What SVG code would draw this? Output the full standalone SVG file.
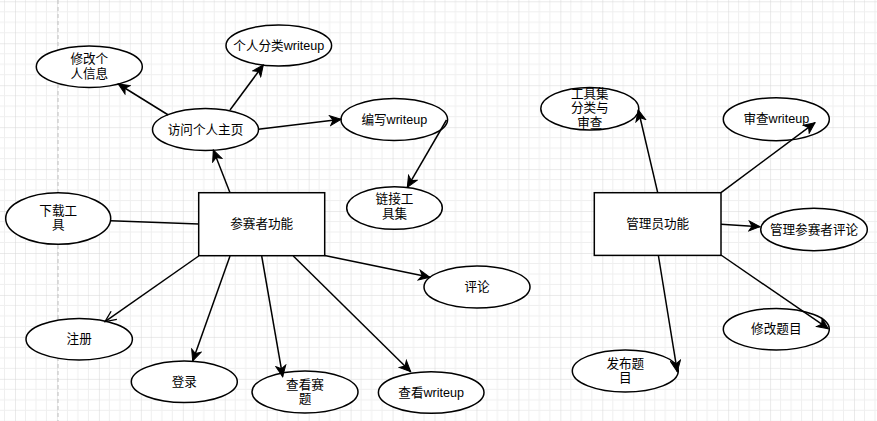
<svg xmlns="http://www.w3.org/2000/svg" width="877" height="421" viewBox="0 0 877 421">
<style>
.n{fill:#fff;stroke:#000;stroke-width:1.5}
.t{font-family:"Liberation Sans","Noto Sans CJK SC",sans-serif;font-size:12.6px;fill:#000;text-anchor:middle;dominant-baseline:central}
.e{fill:none;stroke:#000;stroke-width:1.5}
.a{marker-end:url(#ar)}
.o{marker-end:url(#op)}
</style>
<defs>
<pattern id="grid" patternUnits="userSpaceOnUse" x="15" y="1.3" width="41.95" height="41.95">
<path d="M10.49 0V41.95M20.98 0V41.95M31.46 0V41.95M0 10.49H41.95M0 20.98H41.95M0 31.46H41.95" stroke="#efefef" stroke-width="1" fill="none"/>
<path d="M0 0V41.95M0 0H41.95" stroke="#d6d6d6" stroke-width="1" fill="none"/>
</pattern>
<marker id="ar" markerUnits="userSpaceOnUse" viewBox="-12 -6 13 12" refX="0" refY="0" markerWidth="13" markerHeight="12" orient="auto">
<path d="M0 0L-11 -5L-8 0L-11 5Z" fill="#000" stroke="#000" stroke-width="1"/>
</marker>
<marker id="op" markerUnits="userSpaceOnUse" viewBox="-12 -6 13 12" refX="0" refY="0" markerWidth="13" markerHeight="12" orient="auto">
<path d="M-11 -5L0 0L-11 5" fill="none" stroke="#000" stroke-width="1.3"/>
</marker>
</defs>
<rect width="877" height="421" fill="#fff"/>
<rect width="877" height="421" fill="url(#grid)"/>
<line x1="58" y1="0" x2="58" y2="421" stroke="#c8c8c8" stroke-width="1.2" stroke-dasharray="4 3"/>

<g id="modify-info"><ellipse class="n" cx="89.3" cy="66.7" rx="53" ry="20.7"/><text class="t" x="89.3" y="59.3">修改个</text><text class="t" x="89.3" y="73.5">人信息</text></g>
<g id="personal-category"><ellipse class="n" cx="278.8" cy="45.5" rx="52.8" ry="20.5"/><text class="t" x="278.8" y="45.5">个人分类writeup</text></g>
<g id="visit-home"><ellipse class="n" cx="205.5" cy="129.5" rx="53" ry="21"/><text class="t" x="205.5" y="129.5">访问个人主页</text></g>
<g id="write-writeup"><ellipse class="n" cx="394.3" cy="119.5" rx="53.3" ry="21"/><text class="t" x="394.3" y="119.5">编写writeup</text></g>
<g id="link-tools"><ellipse class="n" cx="394.5" cy="208" rx="47.8" ry="21.3"/><text class="t" x="394.5" y="199.3">链接工</text><text class="t" x="394.5" y="213.5">具集</text></g>
<g id="contestant"><rect class="n" x="198.7" y="192.7" width="126" height="63"/><text class="t" x="261.7" y="224">参赛者功能</text></g>
<g id="download-tools"><ellipse class="n" cx="58.2" cy="218.5" rx="52.5" ry="25.8"/><text class="t" x="58.2" y="210.8">下载工</text><text class="t" x="58.2" y="225">具</text></g>
<g id="register"><ellipse class="n" cx="79.2" cy="339.2" rx="53.2" ry="20.8"/><text class="t" x="79.2" y="339.2">注册</text></g>
<g id="login"><ellipse class="n" cx="184.3" cy="381.8" rx="53" ry="20.8"/><text class="t" x="184.3" y="381.8">登录</text></g>
<g id="view-problems"><ellipse class="n" cx="305" cy="392" rx="53" ry="21"/><text class="t" x="305" y="384.5">查看赛</text><text class="t" x="305" y="398.5">题</text></g>
<g id="comment"><ellipse class="n" cx="477" cy="287" rx="53" ry="21"/><text class="t" x="477" y="287">评论</text></g>
<g id="view-writeup"><ellipse class="n" cx="431.2" cy="392.5" rx="52.8" ry="20.8"/><text class="t" x="431.2" y="392.5">查看writeup</text></g>
<g id="toolset-review"><ellipse class="n" cx="589.8" cy="108.7" rx="49" ry="21.3"/><text class="t" x="589.8" y="93.5">工具集</text><text class="t" x="589.8" y="108">分类与</text><text class="t" x="589.8" y="122.7">审查</text></g>
<g id="review-writeup"><ellipse class="n" cx="776.3" cy="119.2" rx="53" ry="21.5"/><text class="t" x="776.3" y="119.2">审查writeup</text></g>
<g id="admin"><rect class="n" x="594.3" y="192.7" width="126.7" height="62.7"/><text class="t" x="657.7" y="224">管理员功能</text></g>
<g id="manage-comments"><ellipse class="n" cx="814" cy="229.5" rx="53.3" ry="21.2"/><text class="t" x="814" y="229.5">管理参赛者评论</text></g>
<g id="modify-problem"><ellipse class="n" cx="776.3" cy="329.2" rx="53" ry="20.8"/><text class="t" x="776.3" y="329.2">修改题目</text></g>
<g id="publish-problem"><ellipse class="n" cx="625.3" cy="371" rx="53" ry="21"/><text class="t" x="625.3" y="363.5">发布题</text><text class="t" x="625.3" y="377.5">目</text></g>

<g id="edges">
<line class="e a" x1="168.3" y1="115" x2="118.3" y2="84"/>
<line class="e a" x1="230" y1="110" x2="263.3" y2="65"/>
<line class="e a" x1="258.3" y1="129.3" x2="341" y2="119.3"/>
<line class="e a" x1="230" y1="192.7" x2="213.3" y2="150"/>
<line class="e a" x1="446.5" y1="120" x2="407.3" y2="187.3"/>
<line class="e" x1="110.7" y1="220.7" x2="198.7" y2="224"/>
<line class="e o" x1="198.7" y1="256" x2="105" y2="321.7"/>
<line class="e a" x1="230" y1="256" x2="192.7" y2="361"/>
<line class="e a" x1="261.7" y1="256" x2="282.7" y2="376.7"/>
<line class="e a" x1="324.7" y1="255.5" x2="430" y2="277.3"/>
<line class="e a" x1="293.3" y1="256" x2="410.7" y2="371.7"/>
<line class="e a" x1="657.7" y1="192.7" x2="638.3" y2="110"/>
<line class="e a" x1="721" y1="192.7" x2="815" y2="122.7"/>
<line class="e a" x1="721" y1="224.3" x2="760" y2="226.7"/>
<line class="e a" x1="721" y1="255" x2="828.3" y2="328.7"/>
<line class="e a" x1="658.3" y1="255" x2="677.3" y2="371.7"/>
</g>
</svg>
